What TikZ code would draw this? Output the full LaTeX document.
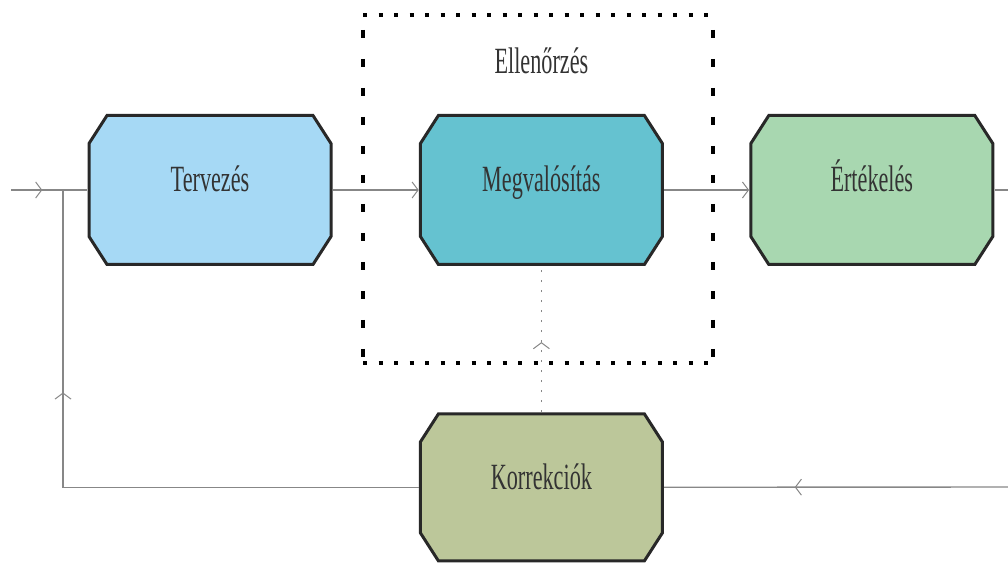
\documentclass[tikz,border=0pt]{standalone}
\usepackage{fontspec}
\setmainfont{Liberation Serif}
\usepackage{graphicx}
\usepackage{xcolor}
\usetikzlibrary{
        arrows.meta,
        positioning,
        decorations.markings
    }

\definecolor{planblue}{RGB}{166,217,245}
\definecolor{doteal}{RGB}{101,194,208}
\definecolor{checkgreen}{RGB}{168,215,176}
\definecolor{actolive}{RGB}{188,199,154}
\definecolor{edgedark}{RGB}{40,40,40}
\definecolor{flowgray}{RGB}{135,135,135}

\newcommand{\boxtext}[1]{\scalebox{0.6}[1]{#1}}

\begin{document}
\begin{tikzpicture}[x=1pt, y=1pt,
stepbox/.style={minimum width=245pt, minimum height=152pt, inner sep=0pt,
  text height=26pt, text depth=22pt, font=\fontsize{37}{40}\selectfont, text=black!80,
  path picture={\filldraw[fill=#1, draw=edgedark, line width=3pt]
    ([shift={(1.5,-29.5)}]path picture bounding box.north west) -- ++(18,28)
    -- ([shift={(-19.5,-1.5)}]path picture bounding box.north east) -- ++(18,-28)
    -- ([shift={(-1.5,29.5)}]path picture bounding box.south east) -- ++(-18,-28)
    -- ([shift={(19.5,1.5)}]path picture bounding box.south west) -- ++(-18,28)
    -- cycle;}},
flow/.style={draw=flowgray, line width=1.4pt},
midarrow/.style={postaction={decorate, decoration={markings,
  mark=at position #1 with {\arrow[flowgray, line width=1pt]{Straight Barb[length=6pt,width=16pt]}}}}},
endarrow/.style={-{Straight Barb[length=6pt,width=16pt,line width=1pt]}},
framedots/.style={line width=3.5pt, dash pattern=on 4pt off 11.5pt},
framedash/.style={line width=3.5pt, dash pattern=on 8pt off 21pt},
]
\useasboundingbox (0,0) rectangle (1008,562);

% boxes
\node (terv) [stepbox=planblue] at (210,372) {\boxtext{Tervezés}};
\node (megv) [stepbox=doteal, right=86pt of terv] {\boxtext{Megvalósítás}};
\node (wert) [stepbox=checkgreen, right=85pt of megv] {\boxtext{Értékelés}};
\node (korr) [stepbox=actolive, minimum height=150pt, below=146pt of megv] {\boxtext{Korrekciók}};

% control frame
\draw[framedots] (363,547) -- (713,547);
\draw[framedots] (363,199) -- (713,199);
\draw[framedash] (363,532) -- (363,199);
\draw[framedash] (713,532) -- (713,199);
\node (ctrl) [above=40pt of megv, inner sep=0pt, font=\fontsize{37}{40}\selectfont, text=black!80] {\boxtext{Ellenőrzés}};

% free ends
\coordinate (start) at (11,372);
\coordinate (junc) at (63,372);
\coordinate (outR) at (1008,372);
\coordinate (inR) at (1008,75);

\draw[flow, midarrow=0.41] (start) -- (terv);
\draw[flow, endarrow] (terv) -- (megv);
\draw[flow, endarrow] (megv) -- (wert);
\draw[flow] (wert) -- (outR);
\draw[flow, midarrow=0.62] (inR) -- (korr);
\draw[flow, midarrow=0.69] (korr.west) -| (junc);
\draw[flowgray, line width=1.6pt, dash pattern=on 2pt off 8pt, midarrow=0.48] (korr.north) -- (megv.south);

\end{tikzpicture}
\end{document}
